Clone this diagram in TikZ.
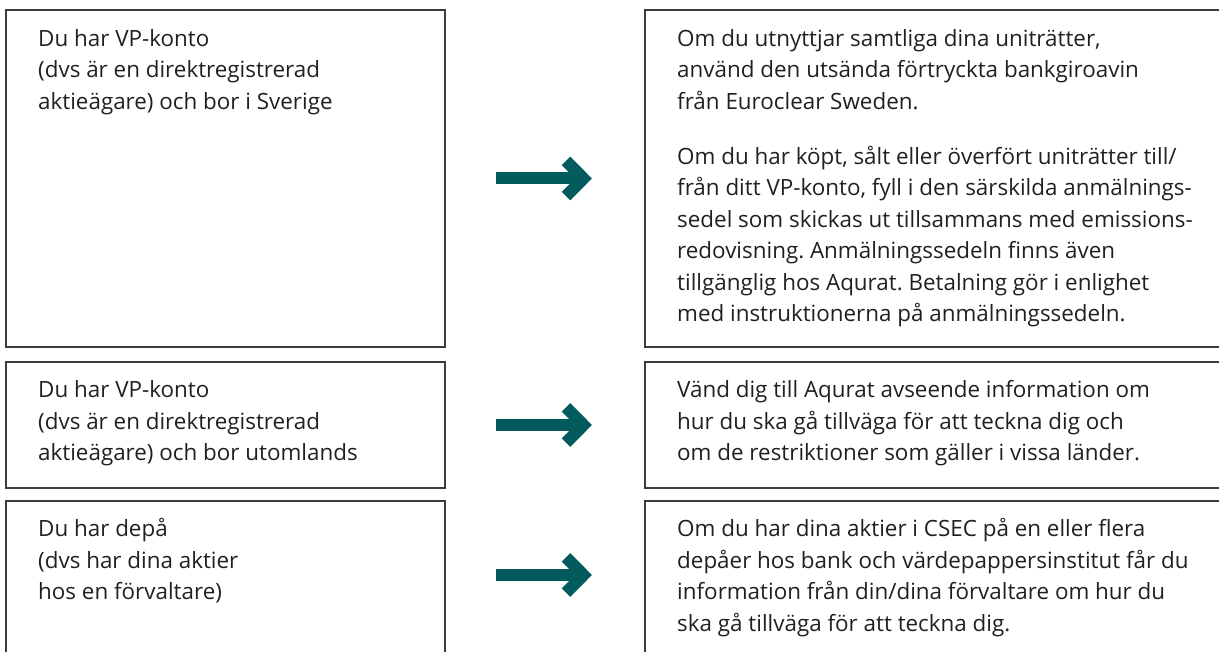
\documentclass[tikz,border=0pt]{standalone}
\usepackage{fontspec}
\setmainfont{Open Sans}
\usepackage{xcolor}
\usepackage{tikz}
\usetikzlibrary{positioning,calc}
\frenchspacing

\definecolor{boxline}{HTML}{3C3C3C}
\definecolor{bodytext}{HTML}{231F20}
\definecolor{arrowteal}{HTML}{035B5E}

\begin{document}
\begin{tikzpicture}[
  x=1pt, y=-1pt,
  optbox/.style={draw=boxline, line width=1.4pt, anchor=north west, inner sep=0pt, outer sep=0pt},
  infotext/.style={anchor=north west, inner sep=0pt, align=left, text=bodytext, font=\fontsize{22.4}{31.5}\selectfont},
  shaft/.style={draw=arrowteal, line width=12pt}
]
\useasboundingbox (0,0) rectangle (1219,652);

% left column
\node[optbox, minimum width=439pt, minimum height=337pt] (l1) at (6,10) {};
\node[optbox, minimum width=439pt, minimum height=126pt] (l2) at (6,362) {};
\node[optbox, minimum width=439pt, minimum height=170pt] (l3) at (6,501) {};
% right column
\node[optbox, minimum width=590pt, minimum height=337pt] (r1) at (645,10) {};
\node[optbox, minimum width=590pt, minimum height=126pt] (r2) at (645,362) {};
\node[optbox, minimum width=590pt, minimum height=170pt] (r3) at (645,501) {};

\node[infotext] (lt1) at ([shift={(32,14.2)}]l1.north west) {\strut Du har VP-konto\\(dvs är en direktregistrerad\\aktieägare) och bor i Sverige};
\node[infotext] (lt2) at ([shift={(32,13.7)}]l2.north west) {\strut Du har VP-konto\\(dvs är en direktregistrerad\\aktieägare) och bor utomlands};
\node[infotext] (lt3) at ([shift={(32,13.7)}]l3.north west) {\strut Du har depå\\(dvs har dina aktier\\hos en förvaltare)};

\node[infotext] (rt1) at ([shift={(32,14.2)}]r1.north west) {\strut Om du utnyttjar samtliga dina uniträtter,\\använd den utsända förtryckta bankgiroavin\\från Euroclear Sweden.\\[23.5pt]Om du har köpt, sålt eller överfört uniträtter till/\\från ditt VP-konto, fyll i den särskilda anmälnings-\\sedel som skickas ut tillsammans med emissions-\\redovisning. Anmälningssedeln finns även\\tillgänglig hos Aqurat. Betalning gör i enlighet\\med instruktionerna på anmälningssedeln.};
\node[infotext] (rt2) at ([shift={(32,13.7)}]r2.north west) {\strut Vänd dig till Aqurat avseende information om\\hur du ska gå tillväga för att teckna dig och\\om de restriktioner som gäller i vissa länder.};
\node[infotext] (rt3) at ([shift={(32,13.7)}]r3.north west) {\strut Om du har dina aktier i CSEC på en eller flera\\depåer hos bank och värdepappersinstitut får du\\information från din/dina förvaltare om hur du\\ska gå tillväga för att teckna dig.};

% arrows
\foreach \r/\ay in {1/178.5,2/425,3/575} {
  \coordinate (s\r) at (496,\ay);
  \coordinate (e\r) at (583.5,\ay);
  \draw[shaft] (s\r) -- (e\r);
  \draw[shaft, line join=miter] ([shift={(-17.5,-17.7)}]e\r) -- (e\r) -- ([shift={(-17.5,17.7)}]e\r);
}
\end{tikzpicture}
\end{document}
